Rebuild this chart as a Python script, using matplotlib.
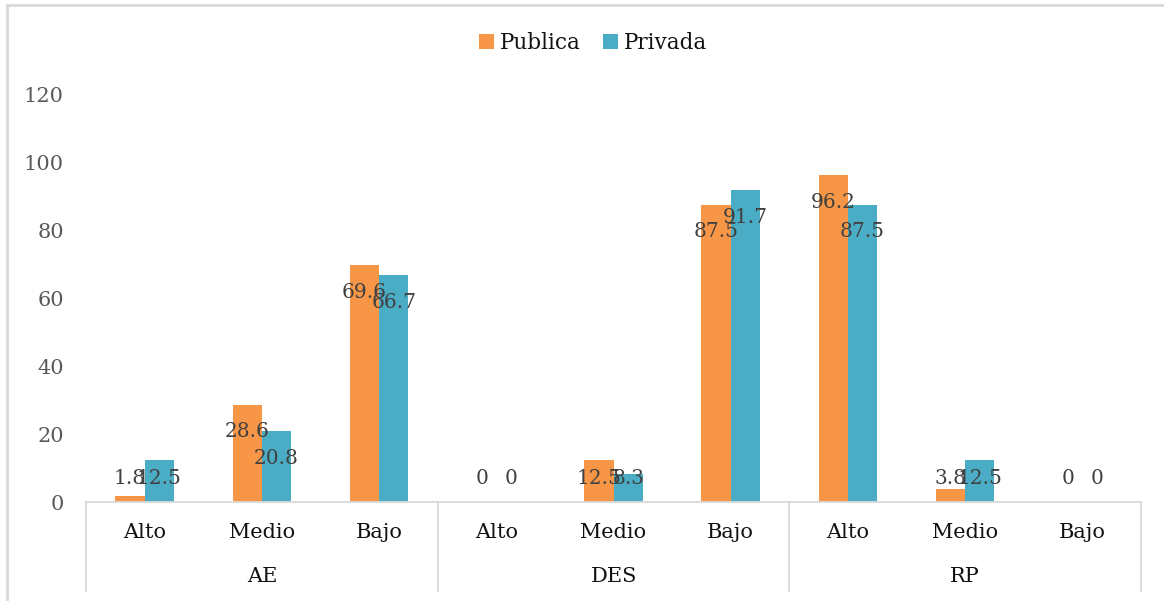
import numpy as np
import matplotlib.pyplot as plt
from matplotlib.patches import Rectangle

# Datos
grupos = ['AE', 'DES', 'RP']
niveles = ['Alto', 'Medio', 'Bajo']
publica = [1.8, 28.6, 69.6, 0, 12.5, 87.5, 96.2, 3.8, 0]
privada = [12.5, 20.8, 66.7, 0, 8.3, 91.7, 87.5, 12.5, 0]
y_ticks = [0, 20, 40, 60, 80, 100, 120]

color_pub = '#F79646'
color_priv = '#4BACC6'
linea = '#D9D9D9'

plt.rcParams['font.family'] = ['DejaVu Serif']
plt.rcParams['font.size'] = 14

W, H = 1164, 601
fig = plt.figure(figsize=(W / 100, H / 100), dpi=100)
ax = fig.add_axes([86 / W, 1 - 502 / H, (1141 - 86) / W, (502 - 94) / H])

x = np.arange(len(publica))
ancho = 0.25
b1 = ax.bar(x - ancho / 2, publica, ancho, color=color_pub, label='Publica')
b2 = ax.bar(x + ancho / 2, privada, ancho, color=color_priv, label='Privada')

# Etiquetas de datos (dentro del extremo, con mínimo sobre el eje)
for xs, vals in [(x - ancho / 2, publica), (x + ancho / 2, privada)]:
    for xi, v in zip(xs, vals):
        ax.text(xi, max(v - 8.0, 6.8), f'{v:g}', ha='center', va='center',
                color='#404040', fontsize=14.5)

ax.set_xlim(-0.5, len(publica) - 0.5)
ax.set_ylim(0, 120)
ax.set_yticks(y_ticks)
ax.tick_params(axis='y', length=0, pad=16, colors='#595959', labelsize=15)
ax.set_xticks([])
for s in ['top', 'right', 'left']:
    ax.spines[s].set_visible(False)
ax.spines['bottom'].set_color(linea)
ax.spines['bottom'].set_linewidth(1.3)

# Etiquetas de categorías en dos niveles
trans = ax.get_xaxis_transform()
alto_ax = (502 - 94)
for i in range(len(publica)):
    ax.text(x[i], -30 / alto_ax, niveles[i % 3], transform=trans,
            ha='center', va='center', color='#111111', fontsize=15)
for g, nombre in enumerate(grupos):
    ax.text(g * 3 + 1, -75 / alto_ax, nombre, transform=trans,
            ha='center', va='center', color='#111111', fontsize=15)
for b in [-0.5, 2.5, 5.5, 8.5]:
    ax.plot([b, b], [0, -89 / alto_ax], transform=trans, color=linea,
            lw=1.3, clip_on=False)

# Leyenda
fig.legend(handles=[b1, b2], loc='center', bbox_to_anchor=(593 / W, 1 - 43 / H),
           ncol=2, frameon=False, handlelength=0.7, handleheight=0.7,
           handletextpad=0.3, columnspacing=1.0, fontsize=15.5,
           labelcolor='#111111')

# Borde del gráfico
fig.patches.append(Rectangle((7 / W, -0.1), 1.2, 1 - 5 / H + 0.1,
                             transform=fig.transFigure, fill=False,
                             edgecolor=linea, lw=2))

fig.savefig('out.png', dpi=100)
